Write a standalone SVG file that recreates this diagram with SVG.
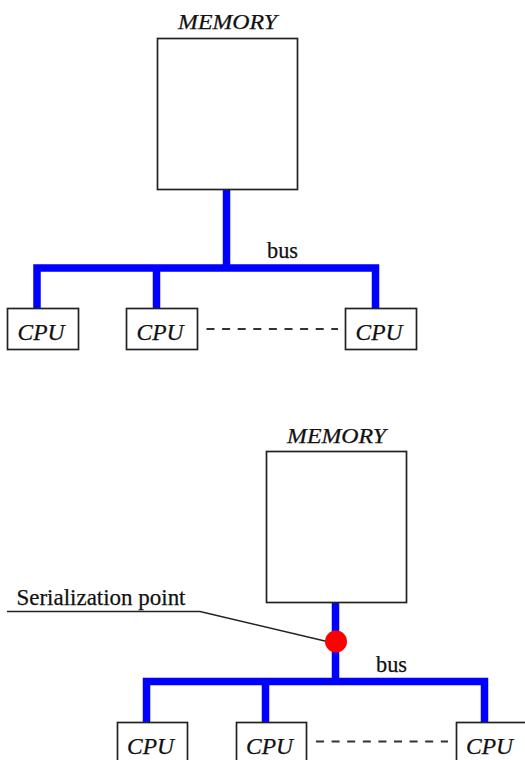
<svg xmlns="http://www.w3.org/2000/svg" width="525" height="760" viewBox="0 0 525 760">
<style>
.box{fill:#fff;stroke:#222;stroke-width:1.7}
.bus{fill:none;stroke:#0000ff;stroke-width:7.5;stroke-linejoin:miter;stroke-linecap:butt}
.dash{fill:none;stroke:#333;stroke-width:1.8;stroke-dasharray:8 7.6}
.lead{fill:none;stroke:#222;stroke-width:1.6}
.ital{font-family:"Liberation Serif","Times New Roman",serif;font-style:italic;fill:#111;stroke:#111;stroke-width:0.25}
.reg{font-family:"Liberation Serif","Times New Roman",serif;fill:#111;stroke:#111;stroke-width:0.25}
</style>
<rect width="525" height="760" fill="#fff"/>
<g id="connectors">
<path class="bus" d="M226.5,189 V268"/>
<path class="bus" d="M37,308 V268 H375.5 V308"/>
<path class="bus" d="M156.5,268 V308"/>
<line class="dash" x1="206.5" y1="329" x2="338" y2="329"/>
<path class="bus" d="M335.5,603 V681.5"/>
<path class="bus" d="M146.5,722 V681.5 H484.5 V722"/>
<path class="bus" d="M265.5,681.5 V722"/>
<line class="dash" x1="316" y1="741.5" x2="448" y2="741.5"/>
<path class="lead" d="M7,611.5 H200 L327,641.5"/>
</g>
<g id="memory1">
<text class="ital" x="178" y="28.5" font-size="21.5" textLength="99" lengthAdjust="spacingAndGlyphs">MEMORY</text>
<rect class="box" x="157.5" y="38.5" width="140" height="151"/>
</g>
<g id="bus-label1"><text class="reg" x="267" y="258" font-size="23" textLength="31" lengthAdjust="spacingAndGlyphs">bus</text></g>
<g id="cpu1a"><rect class="box" x="7.5" y="308.5" width="71" height="41"/><text class="ital" x="17.5" y="339.5" font-size="23" textLength="47" lengthAdjust="spacingAndGlyphs">CPU</text></g>
<g id="cpu1b"><rect class="box" x="126.5" y="308.5" width="71" height="41"/><text class="ital" x="136.5" y="339.5" font-size="23" textLength="47" lengthAdjust="spacingAndGlyphs">CPU</text></g>
<g id="cpu1c"><rect class="box" x="345.5" y="308.5" width="71" height="41"/><text class="ital" x="355.5" y="339.5" font-size="23" textLength="47" lengthAdjust="spacingAndGlyphs">CPU</text></g>
<g id="memory2">
<text class="ital" x="287" y="442.5" font-size="21.5" textLength="99" lengthAdjust="spacingAndGlyphs">MEMORY</text>
<rect class="box" x="266.5" y="451.5" width="140" height="151"/>
</g>
<g id="bus-label2"><text class="reg" x="376" y="672" font-size="23" textLength="31" lengthAdjust="spacingAndGlyphs">bus</text></g>
<g id="serialization-label"><text class="reg" x="16.5" y="604.5" font-size="23.5" textLength="169" lengthAdjust="spacingAndGlyphs">Serialization point</text></g>
<g id="serialization-point"><circle cx="336" cy="641.5" r="11" fill="#ff0000"/></g>
<g id="cpu2a"><rect class="box" x="117.5" y="722.5" width="70" height="41"/><text class="ital" x="127" y="753.5" font-size="23" textLength="47" lengthAdjust="spacingAndGlyphs">CPU</text></g>
<g id="cpu2b"><rect class="box" x="236.5" y="722.5" width="70" height="41"/><text class="ital" x="246" y="753.5" font-size="23" textLength="47" lengthAdjust="spacingAndGlyphs">CPU</text></g>
<g id="cpu2c"><rect class="box" x="456.5" y="722.5" width="71" height="41"/><text class="ital" x="466" y="753.5" font-size="23" textLength="47" lengthAdjust="spacingAndGlyphs">CPU</text></g>
</svg>
